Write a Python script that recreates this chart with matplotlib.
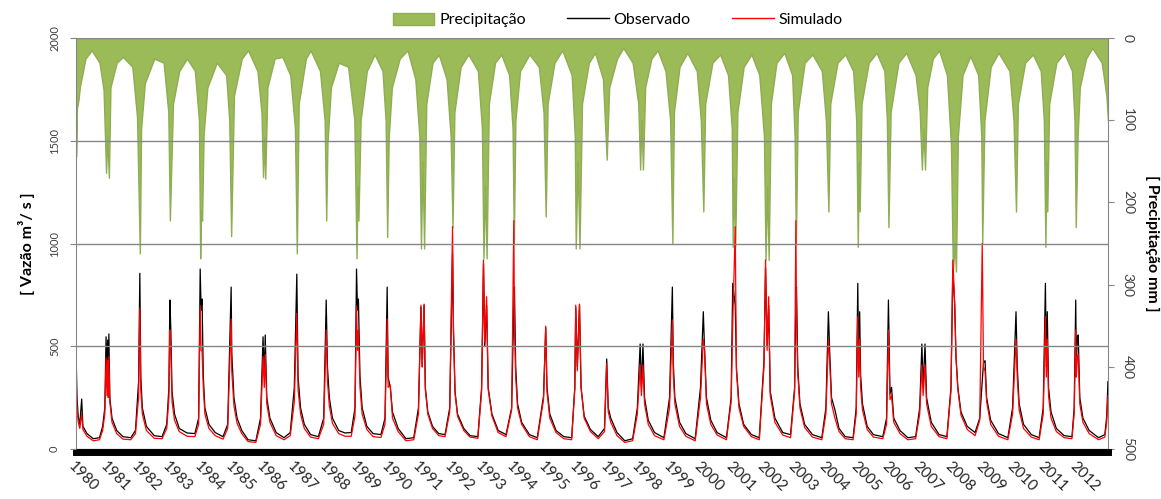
import matplotlib
matplotlib.use("Agg")
from matplotlib import pyplot as plt
from matplotlib.patches import Patch
from matplotlib.lines import Line2D

plt.rcParams['font.family'] = ['Lato', 'DejaVu Sans']

# vazao (m3/s): tempo em anos decimais, observado e simulado
flow_time = [
    1980.00, 1980.03, 1980.07, 1980.12, 1980.18, 1980.22, 1980.35, 1980.55, 1980.75, 1980.85, 1980.92,
    1980.96, 1980.99, 1981.01, 1981.03, 1981.05, 1981.08, 1981.15, 1981.30, 1981.50, 1981.75, 1981.90,
    1982.00, 1982.04, 1982.07, 1982.12, 1982.25, 1982.50, 1982.75, 1982.90, 1982.97,
    1983.00, 1983.03, 1983.07, 1983.15, 1983.30, 1983.55, 1983.80, 1983.92,
    1983.97, 1984.00, 1984.03, 1984.07, 1984.12, 1984.25, 1984.45, 1984.70, 1984.85,
    1984.96, 1984.98, 1985.05, 1985.15, 1985.30, 1985.50, 1985.75, 1985.90,
    1985.98, 1986.02, 1986.05, 1986.10, 1986.20, 1986.40, 1986.65, 1986.85, 1986.98,
    1987.06, 1987.10, 1987.18, 1987.30, 1987.50, 1987.75, 1987.92,
    1988.00, 1988.04, 1988.10, 1988.20, 1988.40, 1988.60, 1988.80, 1988.92,
    1988.97, 1989.00, 1989.03, 1989.08, 1989.15, 1989.30, 1989.50, 1989.75, 1989.88,
    1989.95, 1989.98, 1990.05, 1990.12, 1990.30, 1990.55, 1990.80, 1990.95,
    1991.03, 1991.07, 1991.13, 1991.17, 1991.25, 1991.40, 1991.60, 1991.80, 1991.95,
    1992.04, 1992.07, 1992.12, 1992.20, 1992.40, 1992.60, 1992.85, 1992.97,
    1993.03, 1993.07, 1993.13, 1993.18, 1993.30, 1993.50, 1993.75, 1993.93,
    1994.00, 1994.02, 1994.06, 1994.12, 1994.25, 1994.50, 1994.75, 1994.95,
    1995.02, 1995.06, 1995.15, 1995.35, 1995.60, 1995.85, 1995.95,
    1995.98, 1996.03, 1996.10, 1996.15, 1996.25, 1996.45, 1996.70, 1996.90,
    1996.97, 1997.02, 1997.10, 1997.30, 1997.55, 1997.80, 1997.95,
    1998.04, 1998.08, 1998.13, 1998.18, 1998.30, 1998.50, 1998.80, 1998.98,
    1999.07, 1999.10, 1999.15, 1999.30, 1999.50, 1999.80, 1999.97,
    2000.06, 2000.10, 2000.16, 2000.30, 2000.50, 2000.80, 2000.95,
    2001.00, 2001.08, 2001.12, 2001.20, 2001.35, 2001.60, 2001.85,
    2002.00, 2002.05, 2002.10, 2002.15, 2002.20, 2002.35, 2002.60, 2002.85, 2002.98,
    2003.02, 2003.04, 2003.08, 2003.15, 2003.30, 2003.55, 2003.85, 2003.98,
    2004.06, 2004.10, 2004.16, 2004.27, 2004.40, 2004.60, 2004.85, 2004.95,
    2005.00, 2005.03, 2005.06, 2005.09, 2005.15, 2005.30, 2005.50, 2005.80, 2005.92,
    2005.98, 2006.03, 2006.08, 2006.15, 2006.35, 2006.60, 2006.85, 2006.98,
    2007.05, 2007.09, 2007.15, 2007.20, 2007.35, 2007.60, 2007.85, 2007.98,
    2008.04, 2008.10, 2008.14, 2008.20, 2008.30, 2008.50, 2008.75, 2008.90,
    2008.98, 2009.02, 2009.07, 2009.12, 2009.25, 2009.50, 2009.80, 2009.95,
    2010.06, 2010.10, 2010.16, 2010.30, 2010.55, 2010.80, 2010.93,
    2011.00, 2011.03, 2011.06, 2011.10, 2011.18, 2011.35, 2011.60, 2011.85, 2011.92,
    2011.97, 2011.99, 2012.02, 2012.05, 2012.10, 2012.20, 2012.40, 2012.70, 2012.90, 2012.96, 2013.00,
]
observado = [
    473, 250, 157, 120, 243, 110, 75, 50, 55, 110, 200,
    546, 300, 530, 280, 560, 250, 150, 90, 60, 55, 90,
    328, 855, 354, 200, 110, 65, 60, 120, 300,
    725, 589, 280, 170, 100, 78, 75, 150,
    876, 676, 730, 354, 200, 120, 80, 60, 120,
    788, 467, 250, 150, 90, 45, 40, 150,
    546, 350, 555, 250, 150, 80, 55, 80, 300,
    851, 350, 200, 120, 70, 60, 150,
    725, 400, 250, 150, 90, 78, 80, 200,
    876, 676, 730, 354, 200, 110, 75, 70, 150,
    788, 350, 300, 180, 100, 50, 55, 200,
    690, 400, 700, 300, 180, 110, 75, 70, 200,
    950, 579, 280, 170, 100, 65, 60, 300,
    900, 500, 700, 300, 170, 90, 70, 200,
    700, 788, 400, 220, 130, 70, 55, 258,
    590, 300, 170, 90, 60, 55, 300,
    690, 400, 700, 300, 160, 95, 60, 100,
    438, 200, 150, 80, 40, 50, 200,
    511, 300, 511, 250, 140, 80, 55, 250,
    788, 420, 250, 130, 75, 50, 300,
    668, 482, 250, 140, 80, 55, 250,
    806, 700, 394, 220, 120, 70, 55,
    428, 880, 500, 700, 280, 150, 80, 70, 300,
    750, 788, 400, 220, 120, 70, 55, 200,
    668, 482, 250, 190, 100, 60, 55, 200,
    806, 400, 668, 360, 220, 110, 70, 60, 150,
    725, 267, 300, 150, 90, 55, 60, 200,
    511, 300, 511, 250, 130, 70, 60, 300,
    870, 700, 450, 300, 180, 110, 80, 150,
    330, 420, 430, 250, 140, 75, 55, 200,
    668, 400, 220, 120, 70, 55, 200,
    806, 400, 668, 300, 180, 100, 65, 60, 200,
    725, 400, 546, 555, 250, 150, 90, 55, 70, 157, 328,
]
simulado = [
    376, 200, 130, 100, 170, 95, 62, 40, 45, 90, 170,
    443, 260, 430, 250, 450, 230, 130, 75, 48, 45, 75,
    250, 686, 290, 170, 90, 52, 50, 100, 250,
    579, 486, 230, 140, 85, 62, 60, 120,
    696, 480, 476, 300, 170, 100, 65, 48, 100,
    633, 380, 210, 125, 75, 36, 32, 120,
    450, 300, 460, 220, 130, 65, 45, 65, 230,
    660, 290, 170, 100, 58, 50, 120,
    579, 330, 210, 125, 75, 62, 62, 160,
    696, 480, 580, 300, 170, 95, 60, 56, 120,
    633, 300, 311, 150, 85, 40, 45, 170,
    700, 400, 705, 290, 170, 100, 65, 60, 180,
    1082, 579, 270, 160, 90, 58, 52, 280,
    920, 520, 741, 290, 160, 80, 60, 190,
    1111, 600, 350, 200, 120, 60, 45, 240,
    598, 280, 150, 80, 50, 45, 290,
    700, 380, 705, 300, 150, 85, 50, 85,
    416, 180, 130, 65, 32, 40, 170,
    409, 260, 409, 220, 120, 65, 45, 200,
    628, 360, 220, 110, 62, 40, 250,
    535, 482, 220, 120, 68, 45, 230,
    600, 1082, 380, 200, 110, 60, 45,
    400, 920, 480, 741, 260, 130, 68, 55, 280,
    1111, 650, 370, 200, 105, 58, 45, 170,
    535, 430, 220, 150, 85, 50, 45, 170,
    644, 350, 535, 300, 190, 95, 58, 50, 120,
    579, 240, 260, 130, 75, 45, 50, 170,
    409, 260, 409, 220, 110, 60, 50, 280,
    920, 700, 449, 290, 165, 95, 65, 140,
    1001, 400, 380, 230, 120, 62, 45, 170,
    535, 350, 190, 100, 58, 45, 170,
    644, 350, 535, 260, 150, 85, 55, 50, 170,
    579, 350, 450, 460, 220, 130, 75, 45, 58, 130, 260,
]

# precipitacao (mm)
precip_time = [
    1980.00, 1980.03, 1980.08, 1980.12, 1980.30, 1980.50, 1980.75, 1980.88,
    1980.96, 1981.00, 1981.05, 1981.10, 1981.30, 1981.50, 1981.80, 1981.95,
    1982.04, 1982.08, 1982.20, 1982.50, 1982.80, 1982.95,
    1983.00, 1983.03, 1983.10, 1983.30, 1983.55, 1983.80, 1983.93,
    1983.97, 1984.00, 1984.03, 1984.08, 1984.20, 1984.50, 1984.80, 1984.90,
    1984.96, 1985.05, 1985.30, 1985.50, 1985.80, 1985.93,
    1985.98, 1986.02, 1986.05, 1986.12, 1986.35, 1986.60, 1986.85, 1987.00,
    1987.06, 1987.12, 1987.35, 1987.50, 1987.80, 1987.95,
    1988.00, 1988.04, 1988.15, 1988.40, 1988.70, 1988.90,
    1988.97, 1989.00, 1989.03, 1989.10, 1989.30, 1989.55, 1989.80, 1989.90,
    1989.95, 1990.00, 1990.10, 1990.35, 1990.60, 1990.85, 1990.98,
    1991.03, 1991.08, 1991.13, 1991.20, 1991.40, 1991.60, 1991.85, 1991.98,
    1992.04, 1992.10, 1992.30, 1992.55, 1992.85, 1992.98,
    1993.03, 1993.08, 1993.13, 1993.20, 1993.40, 1993.60, 1993.85, 1993.96,
    1994.00, 1994.05, 1994.20, 1994.50, 1994.80, 1994.95,
    1995.02, 1995.08, 1995.30, 1995.55, 1995.85, 1995.95,
    1995.98, 1996.04, 1996.10, 1996.18, 1996.40, 1996.60, 1996.85,
    1996.97, 1997.05, 1997.30, 1997.50, 1997.80, 1997.98,
    1998.04, 1998.08, 1998.13, 1998.20, 1998.40, 1998.60, 1998.85, 1999.00,
    1999.07, 1999.12, 1999.30, 1999.55, 1999.85, 1999.98,
    2000.06, 2000.12, 2000.35, 2000.60, 2000.85, 2000.97,
    2001.00, 2001.04, 2001.08, 2001.15, 2001.35, 2001.60, 2001.85, 2002.00,
    2002.05, 2002.10, 2002.15, 2002.22, 2002.40, 2002.65, 2002.90, 2002.98,
    2003.02, 2003.08, 2003.30, 2003.55, 2003.85, 2003.98,
    2004.06, 2004.12, 2004.35, 2004.60, 2004.85, 2004.95,
    2005.00, 2005.03, 2005.06, 2005.12, 2005.35, 2005.60, 2005.85, 2005.93,
    2005.98, 2006.05, 2006.30, 2006.55, 2006.85, 2006.98,
    2007.05, 2007.10, 2007.15, 2007.22, 2007.40, 2007.60, 2007.85, 2007.98,
    2008.04, 2008.10, 2008.14, 2008.20, 2008.35, 2008.60, 2008.85, 2008.95,
    2008.98, 2009.05, 2009.25, 2009.50, 2009.85, 2009.98,
    2010.06, 2010.12, 2010.35, 2010.60, 2010.85, 2010.95,
    2011.00, 2011.03, 2011.06, 2011.12, 2011.35, 2011.60, 2011.85, 2011.93,
    2011.97, 2012.03, 2012.10, 2012.30, 2012.50, 2012.80, 2012.95, 2013.00,
]
precipitacao = [
    144, 85, 75, 60, 25, 15, 30, 63,
    164, 120, 170, 60, 30, 23, 35, 96,
    262, 110, 55, 25, 30, 90,
    222, 179, 80, 40, 25, 40, 100,
    268, 209, 222, 117, 60, 30, 45, 100,
    241, 70, 25, 15, 40, 90,
    169, 120, 171, 60, 25, 23, 45, 110,
    262, 80, 25, 15, 40, 100,
    222, 128, 60, 30, 35, 100,
    268, 180, 222, 100, 40, 20, 40, 100,
    242, 120, 60, 25, 15, 50, 120,
    256, 150, 256, 80, 30, 20, 50, 120,
    230, 90, 35, 20, 40, 110,
    268, 180, 268, 80, 30, 20, 45, 110,
    250, 100, 40, 20, 35, 90,
    217, 80, 30, 15, 45, 120,
    256, 150, 256, 80, 30, 18, 50,
    148, 60, 25, 12, 30, 80,
    160, 100, 160, 60, 25, 15, 40, 100,
    250, 90, 35, 18, 40, 100,
    211, 80, 30, 20, 45, 110,
    254, 170, 254, 90, 35, 20, 45, 120,
    270, 180, 270, 80, 30, 18, 45, 120,
    250, 90, 30, 20, 40, 100,
    211, 80, 30, 20, 40, 100,
    254, 150, 211, 80, 30, 18, 40, 100,
    230, 90, 30, 18, 45, 90,
    160, 110, 160, 60, 25, 15, 45, 130,
    284, 250, 284, 120, 45, 22, 45, 120,
    250, 100, 35, 18, 40, 100,
    211, 80, 30, 20, 40, 100,
    254, 150, 211, 80, 30, 18, 40, 100,
    230, 120, 60, 25, 12, 30, 70, 100,
]

years = list(range(1980, 2013))

fig = plt.figure(figsize=(11.61, 4.99), dpi=100)
ax = fig.add_axes([0.0655, 0.1002, 0.8888, 0.8236])
ax2 = ax.twinx()

# eixo x: barra preta abaixo do zero (mover antes de formatar os rotulos)
for sp in ['top', 'right']:
    ax.spines[sp].set_visible(False)
    ax2.spines[sp].set_visible(False)
ax2.spines['left'].set_visible(False)
ax2.spines['bottom'].set_visible(False)
ax.spines['left'].set_color('#868686')
ax.spines['bottom'].set_color('black')
ax.spines['bottom'].set_linewidth(5)
ax.spines['bottom'].set_position(('outward', 2.5))
ax2.spines['right'].set_visible(True)
ax2.spines['right'].set_color('#868686')

# chuva no eixo da direita (invertido)
ax2.fill_between(precip_time, 0, precipitacao, color='#9bbb59', edgecolor='#8fad52', linewidth=1.0)
ax2.set_ylim(500, 0)
ax2.set_yticks(range(0, 501, 100))

# vazoes por cima da chuva
ax.set_zorder(ax2.get_zorder() + 1)
ax.patch.set_visible(False)
ax.plot(flow_time, observado, color='black', linewidth=0.9)
ax.plot(flow_time, simulado, color='#ff0000', linewidth=0.9)

ax.set_xlim(1980, 2013)
ax.set_ylim(0, 2000)
ax.set_yticks(range(0, 2001, 500))
ax.yaxis.grid(True, color='#868686', linewidth=1.0)
ax.set_axisbelow(False)

ax.set_xticks(years)
ax.set_xticklabels([str(y) for y in years], rotation=-45, ha='left', va='top',
                   rotation_mode='anchor', fontsize=11, color='#262626')
ax.tick_params(axis='x', length=0, pad=5)

ax.tick_params(axis='y', colors='#868686', labelcolor='#404040', length=4.5, labelsize=8,
               direction='out', pad=7)
for lab in ax.get_yticklabels():
    lab.set_rotation(90)
    lab.set_va('center')
ax2.tick_params(axis='y', colors='#868686', labelcolor='#404040', length=4, labelsize=10,
                direction='out', pad=6)
for lab in ax2.get_yticklabels():
    lab.set_rotation(-90)
    lab.set_va('center')

ax.set_ylabel('[ Vazão m³/ s ]', fontsize=11.5, fontweight='bold', labelpad=10)
ax2.set_ylabel('[ Precipitação mm ]', fontsize=11.5, fontweight='bold', rotation=-90, labelpad=18)

handles = [Patch(facecolor='#9bbb59', edgecolor='#8fad52'),
           Line2D([], [], color='black', linewidth=1.0),
           Line2D([], [], color='#ff0000', linewidth=1.0)]
fig.legend(handles, ['Precipitação', 'Observado', 'Simulado'], loc='center',
           bbox_to_anchor=(0.532, 0.96), ncol=3, frameon=False, fontsize=11.5,
           handlelength=2.6, handleheight=0.8, handletextpad=0.3, columnspacing=2.6)

fig.savefig('out.png', dpi=100)
